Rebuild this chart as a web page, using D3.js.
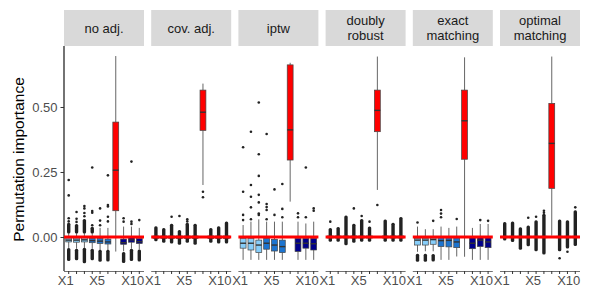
<!DOCTYPE html>
<html>
<head>
<meta charset="utf-8">
<script src="https://cdn.jsdelivr.net/npm/d3@7"></script>
<style>
  body { margin: 0; background: #fff; }
  svg { display: block; font-family: "Liberation Sans", Arial, Helvetica, sans-serif; }
</style>
</head>
<body>
<div id="chart"></div>
<script>
// facets and x categories
const methods = ['no adj.', 'cov. adj.', 'iptw', 'doubly\nrobust', 'exact\nmatching', 'optimal\nmatching'];
const variables = ['X1', 'X2', 'X3', 'X4', 'X5', 'X6', 'X7', 'X8', 'X9', 'X10'];
const varGroup = ['a', 'a', 'a', 'b', 'b', 'b', 'c', 'd', 'd', 'd'];
const xTickLabels = ['X1', 'X5', 'X10'];
const yTicks = [0, 0.25, 0.5];

// box stats per variable: [lower whisker, q1, median, q3, upper whisker]
const noAdjStats = [
  [-0.042, -0.019, -0.012, -0.004, 0.015], [-0.045, -0.02, -0.012, -0.004, 0.015],
  [-0.042, -0.019, -0.011, -0.003, 0.015], [-0.045, -0.022, -0.014, -0.005, 0.015],
  [-0.05, -0.025, -0.016, -0.006, 0.035], [-0.05, -0.027, -0.019, -0.008, 0.035],
  [-0.056, 0.101, 0.257, 0.442, 0.696], [-0.055, -0.028, -0.022, -0.008, 0.04],
  [-0.045, -0.02, -0.011, -0.003, 0.04], [-0.048, -0.025, -0.018, -0.006, 0.035]
];
const noAdjOut = [
  [0.219, 0.16, 0.06, 0.072], [0.096, 0.07, 0.058], [0.119, 0.11, 0.092, 0.08], [0.267, 0.1, 0.093, 0.045],
  [0.11, 0.063, 0.045], [0.237, 0.123, 0.117, 0.078, 0.06], [], [0.072, 0.059], [0.29, 0.059, 0.05], [0.065]
];
const noAdjDense = [
  [[-0.088, -0.047], [0.018, 0.05]], [[-0.085, -0.05], [0.018, 0.045]], [[-0.096, -0.046], [0.018, 0.065]],
  [[-0.085, -0.05], [0.018, 0.035]], [[-0.091, -0.054]], [[-0.09, -0.054]], [],
  [[-0.095, -0.062]], [[-0.088, -0.05]], [[-0.09, -0.053]]
];

const covAdjStats = [
  [-0.012, -0.006, -0.001, 0.004, 0.012], [-0.012, -0.006, -0.001, 0.004, 0.012],
  [-0.012, -0.006, -0.001, 0.004, 0.012], [-0.012, -0.006, -0.001, 0.004, 0.012],
  [-0.012, -0.006, -0.001, 0.004, 0.012], [-0.012, -0.006, -0.001, 0.004, 0.012],
  [0.2, 0.41, 0.48, 0.565, 0.59], [-0.012, -0.006, -0.001, 0.004, 0.012],
  [-0.012, -0.006, -0.001, 0.004, 0.012], [-0.012, -0.006, -0.001, 0.004, 0.012]
];
const covAdjOut = [[], [], [0.078], [0.081], [0.06, 0.068], [], [0.174, 0.153], [], [], []];
const covAdjDense = [
  [[-0.012, 0.037]], [[-0.018, 0.03]], [[-0.02, 0.046]], [[-0.025, 0.022]], [[-0.018, 0.05]],
  [[-0.025, 0.046]], [], [[-0.018, 0.03]], [[-0.02, 0.037]], [[-0.02, 0.055]]
];

const iptwStats = [
  [-0.088, -0.043, -0.024, -0.005, 0.046], [-0.088, -0.05, -0.024, -0.005, 0.059],
  [-0.088, -0.06, -0.031, -0.012, 0.068], [-0.088, -0.047, -0.024, -0.005, 0.059],
  [-0.088, -0.054, -0.031, -0.009, 0.059], [-0.088, -0.06, -0.037, -0.012, 0.059],
  [0.136, 0.296, 0.412, 0.662, 0.67], [-0.088, -0.056, -0.024, -0.005, 0.059],
  [-0.088, -0.043, -0.024, -0.005, 0.052], [-0.088, -0.05, -0.026, -0.005, 0.059]
];
const iptwOut = [
  [0.345, 0.174, 0.085, 0.065], [0.405, 0.2, 0.155, 0.114, 0.068],
  [0.517, 0.318, 0.235, 0.162, 0.133, 0.09, 0.085], [0.396, 0.127, 0.115, 0.104, 0.068],
  [0.183, 0.085], [0.204, 0.108, 0.076], [], [0.091, 0.076], [0.267, 0.076], [0.11, 0.101]
];
const iptwDense = [[], [], [], [], [], [], [], [], [], []];

const drStats = [
  [-0.008, -0.004, 0, 0.004, 0.01], [-0.008, -0.004, 0, 0.004, 0.01], [-0.008, -0.004, 0, 0.004, 0.01],
  [-0.008, -0.004, 0, 0.004, 0.01], [-0.008, -0.004, 0, 0.004, 0.01], [-0.008, -0.004, 0, 0.004, 0.01],
  [0.181, 0.405, 0.487, 0.565, 0.694], [-0.008, -0.004, 0, 0.004, 0.01],
  [-0.008, -0.004, 0, 0.004, 0.01], [-0.008, -0.004, 0, 0.004, 0.01]
];
const drOut = [[0.059], [], [], [0.11], [0.081], [0.059], [0.123], [], [], []];
const drDense = [
  [[-0.014, 0.03]], [[-0.014, 0.034]], [[-0.027, 0.078]], [[-0.018, 0.046]], [[-0.014, 0.065]],
  [[-0.014, 0.036]], [], [[-0.014, 0.063]], [[-0.014, 0.05]], [[-0.014, 0.072]]
];

const exactStats = [
  [-0.057, -0.031, -0.012, -0.005, 0.04], [-0.055, -0.031, -0.012, -0.005, 0.03],
  [-0.055, -0.028, -0.01, -0.004, 0.03], [-0.088, -0.037, -0.014, -0.001, 0.04],
  [-0.088, -0.038, -0.013, -0.003, 0.035], [-0.075, -0.041, -0.019, -0.003, 0.04],
  [-0.076, 0.299, 0.447, 0.565, 0.691], [-0.088, -0.045, -0.024, -0.003, 0.035],
  [-0.088, -0.037, -0.012, -0.001, 0.05], [-0.088, -0.041, -0.019, -0.003, 0.05]
];
const exactOut = [[0.056], [], [0.062], [0.104, 0.09, 0.076], [], [0.069], [], [], [0.065], [0.062]];
const exactDense = [
  [[-0.091, -0.069]], [[-0.091, -0.069]], [[-0.09, -0.07]], [], [], [], [], [], [], []
];

const optStats = [
  [-0.006, -0.003, 0, 0.003, 0.008], [-0.006, -0.003, 0, 0.003, 0.008], [-0.006, -0.003, 0, 0.003, 0.008],
  [-0.006, -0.003, 0, 0.003, 0.008], [-0.006, -0.003, 0, 0.003, 0.008], [-0.006, -0.003, 0, 0.003, 0.008],
  [0.005, 0.187, 0.36, 0.514, 0.694], [-0.006, -0.003, 0, 0.003, 0.008],
  [-0.006, -0.003, 0, 0.003, 0.008], [-0.006, -0.003, 0, 0.003, 0.008]
];
const optOut = [[], [], [], [0.074], [0.078], [0.093, 0.101], [], [-0.082], [-0.057], [0.114]];
const optDense = [
  [[-0.009, 0.053]], [[-0.015, 0.055]], [[-0.044, 0.033]], [[-0.031, 0.04]], [[-0.05, 0.06]],
  [[-0.063, 0.085]], [], [[-0.05, 0.063]], [[-0.04, 0.06]], [[-0.03, 0.098]]
];

const panelStats = [noAdjStats, covAdjStats, iptwStats, drStats, exactStats, optStats];
const panelOut = [noAdjOut, covAdjOut, iptwOut, drOut, exactOut, optOut];
const panelDense = [noAdjDense, covAdjDense, iptwDense, drDense, exactDense, optDense];

const width = 590, height = 288;
const panelLeft = 64, panelW = 80, panelStep = 87.2;
const panelTop = 46, panelBottom = 271;

const color = d3.scaleOrdinal()
  .domain(['a', 'b', 'c', 'd'])
  .range(['#87CEFA', '#1C74D0', '#FF0000', '#00008B']);

const y = d3.scaleLinear()
  .domain([-0.1308, 0.7346])
  .range([panelBottom, panelTop]);

const svg = d3.select('#chart')
  .append('svg')
  .attr('width', width)
  .attr('height', height);

// y axis title
svg.append('text')
  .attr('transform', `translate(24,${(panelTop + panelBottom) / 2 + 1}) rotate(-90)`)
  .attr('text-anchor', 'middle')
  .attr('font-size', 15.5)
  .attr('fill', '#000')
  .text('Permutation importance');

// y axis on first panel
const yAxis = svg.append('g')
  .attr('transform', `translate(${panelLeft},0)`)
  .call(d3.axisLeft(y).tickValues(yTicks).tickFormat(d3.format('.2f')).tickSize(3.5).tickPadding(3));
yAxis.select('.domain').attr('stroke', '#000').attr('stroke-width', 1.1)
  .attr('d', `M0,${panelTop}V${panelBottom}`);
yAxis.selectAll('.tick line').attr('stroke', '#333');
yAxis.selectAll('.tick text').attr('fill', '#4D4D4D').attr('font-size', 13)
  .attr('font-family', '"Liberation Sans", Arial, sans-serif');

methods.forEach((m, p) => {
  const x0 = panelLeft + p * panelStep;
  const x = d3.scaleBand()
    .domain(variables)
    .range([x0, x0 + panelW])
    .paddingInner(0)
    .paddingOuter(0.1);
  const bw = x.bandwidth();
  const cx = v => x(v) + bw / 2;
  const boxW = bw * 0.75;

  // strip
  svg.append('rect')
    .attr('x', x0).attr('y', 10)
    .attr('width', panelW).attr('height', 36)
    .attr('fill', '#D9D9D9');
  const lines = m.split('\n');
  const strip = svg.append('text')
    .attr('text-anchor', 'middle')
    .attr('font-size', 13)
    .attr('fill', '#1A1A1A');
  lines.forEach((ln, i) => {
    strip.append('tspan')
      .attr('x', x0 + panelW / 2)
      .attr('y', 28 + 4.6 + (i - (lines.length - 1) / 2) * 14.5)
      .text(ln);
  });

  // x axis
  const xAxis = svg.append('g')
    .attr('transform', `translate(0,${panelBottom})`)
    .call(d3.axisBottom(x).tickSize(3).tickFormat(''));
  xAxis.select('.domain').attr('stroke', '#333').attr('stroke-width', 0.7)
    .attr('d', `M${x0},0.5H${x0 + panelW}`);
  xAxis.selectAll('.tick line').attr('stroke', '#333');
  svg.append('g').selectAll('text')
    .data(xTickLabels)
    .enter()
    .append('text')
    .attr('x', d => cx(d) + 5)
    .attr('y', 285)
    .attr('text-anchor', 'end')
    .attr('font-size', 13)
    .attr('fill', '#4D4D4D')
    .text(d => d);

  const stats = panelStats[p], outs = panelOut[p], dense = panelDense[p];
  const g = svg.append('g');

  variables.forEach((v, i) => {
    const [lo, q1, med, q3, hi] = stats[i];
    const bg = g.append('g');
    // whiskers
    bg.append('line')
      .attr('x1', cx(v)).attr('x2', cx(v))
      .attr('y1', y(lo)).attr('y2', y(q1))
      .attr('stroke', '#666').attr('stroke-width', 1);
    bg.append('line')
      .attr('x1', cx(v)).attr('x2', cx(v))
      .attr('y1', y(q3)).attr('y2', y(hi))
      .attr('stroke', '#666').attr('stroke-width', 1);
    // box
    bg.append('rect')
      .attr('x', cx(v) - boxW / 2)
      .attr('y', y(q3))
      .attr('width', boxW)
      .attr('height', Math.max(0.5, y(q1) - y(q3)))
      .attr('fill', color(varGroup[i]))
      .attr('stroke', '#444')
      .attr('stroke-width', 0.7);
    bg.append('line')
      .attr('x1', cx(v) - boxW / 2).attr('x2', cx(v) + boxW / 2)
      .attr('y1', y(med)).attr('y2', y(med))
      .attr('stroke', '#333').attr('stroke-width', 1.4);
    // dense outlier runs
    bg.selectAll('.dense')
      .data(dense[i])
      .enter()
      .append('rect')
      .attr('x', cx(v) - 1.7)
      .attr('y', d => y(d[1]) - 1.2)
      .attr('width', 3.4)
      .attr('height', d => y(d[0]) - y(d[1]) + 2.4)
      .attr('rx', 1.5)
      .attr('fill', '#222');
    // single outliers
    bg.selectAll('.out')
      .data(outs[i])
      .enter()
      .append('circle')
      .attr('cx', cx(v))
      .attr('cy', d => y(d))
      .attr('r', 1.3)
      .attr('fill', '#222');
  });

  // reference line at zero
  svg.append('line')
    .attr('x1', x0).attr('x2', x0 + panelW)
    .attr('y1', y(0)).attr('y2', y(0))
    .attr('stroke', '#FF0000')
    .attr('stroke-width', 2.8);
});
</script>
</body>
</html>
